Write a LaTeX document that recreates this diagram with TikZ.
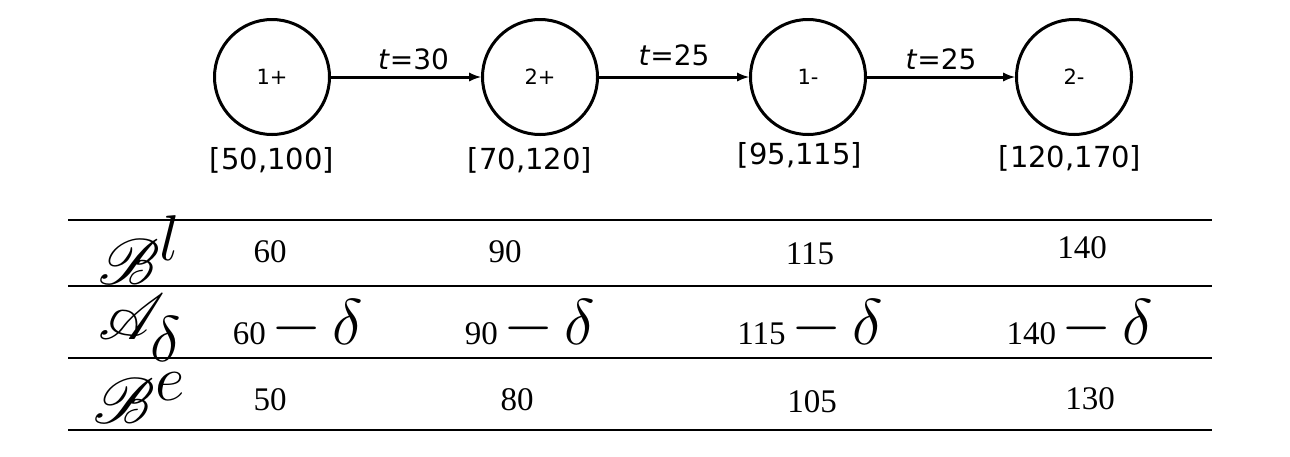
\documentclass[tikz,border=0pt]{standalone}
\usepackage{mathrsfs}
\usepackage{graphicx}
\usepackage{fontspec}
\newfontfamily\sans{DejaVu Sans}
\newfontfamily\serif{Liberation Serif}
\newcommand{\bigmth}[1]{\scalebox{2.6}{$#1$}}
\newcommand{\dl}{\,\scalebox{2.6}{$-\,\delta$}}
\begin{document}
\begin{tikzpicture}[x=1pt,y=-1pt,
  st/.style={circle,draw,line width=3pt,minimum size=115pt,inner sep=0pt,font=\sans\fontsize{21}{24}\selectfont},
  iv/.style={font=\sans\fontsize{29}{34}\selectfont},
  tl/.style={font=\sans\fontsize{28}{32}\selectfont},
  ar/.style={-latex,line width=3pt},
  cell/.style={font=\serif\fontsize{33}{36}\selectfont},
  rl/.style={line width=1.5pt}]
\useasboundingbox (0,0) rectangle (1290,456);
\node[st] (a) at (272,77) {1+};
\node[st] (b) at (540,77) {2+};
\node[st] (c) at (808,77) {1-};
\node[st] (d) at (1074,77) {2-};
\draw[ar] (a) -- node[tl,above,pos=0.55,yshift=2pt]{\textit{t}=30} (b);
\draw[ar] (b) -- node[tl,above,pos=0.5,yshift=6pt]{\textit{t}=25} (c);
\draw[ar] (c) -- node[tl,above,pos=0.5,yshift=2pt]{\textit{t}=25} (d);
\node[iv] (ia) at (272,160) {[50,100]};
\node[iv] (ib) at (530,160) {[70,120]};
\node[iv] (ic) at (800,155) {[95,115]};
\node[iv] (id) at (1070,158) {[120,170]};
\coordinate (l1a) at (68,220); \coordinate (l1b) at (1212,220);
\coordinate (l2a) at (68,286); \coordinate (l2b) at (1212,286);
\coordinate (l3a) at (68,358); \coordinate (l3b) at (1212,358);
\coordinate (l4a) at (68,430); \coordinate (l4b) at (1212,430);
\draw[rl] (l1a)--(l1b); \draw[rl] (l2a)--(l2b); \draw[rl] (l3a)--(l3b); \draw[rl] (l4a)--(l4b);
\node[cell] (r1) at (140,250) {\bigmth{\mathscr{B}^l}};
\node[cell] (r2) at (140,328) {\bigmth{\mathscr{A}_\delta}};
\node[cell] (r3) at (140,398) {\bigmth{\mathscr{B}^e}};
\node[cell] (c11) at (270,252) {60};
\node[cell] (c12) at (505,252) {90};
\node[cell] (c13) at (810,254) {115};
\node[cell] (c14) at (1082,248) {140};
\node[cell] (c21) at (298,325) {60\dl};
\node[cell] (c22) at (530,325) {90\dl};
\node[cell] (c23) at (810,325) {115\dl};
\node[cell] (c24) at (1080,325) {140\dl};
\node[cell] (c31) at (270,400) {50};
\node[cell] (c32) at (517,400) {80};
\node[cell] (c33) at (812,402) {105};
\node[cell] (c34) at (1090,399) {130};
\end{tikzpicture}
\end{document}
